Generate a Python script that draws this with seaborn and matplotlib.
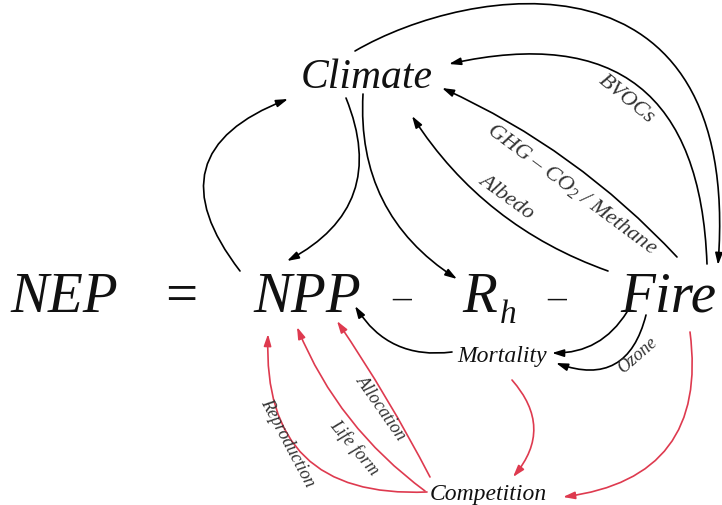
import matplotlib.pyplot as plt
import seaborn as sns
from matplotlib.patches import FancyArrowPatch
from matplotlib.path import Path

sns.set_theme(style="white")
plt.rcParams['font.family'] = ['Liberation Serif', 'DejaVu Serif']
plt.rcParams['mathtext.fontset'] = 'custom'
plt.rcParams['mathtext.rm'] = 'Liberation Serif:italic'
plt.rcParams['mathtext.it'] = 'Liberation Serif:italic'

# equation row (x = left edge, baseline y in pixels)
eq_terms = ["NEP", "=", "NPP", "–", "R", "–", "Fire"]
eq_x = [10, 165, 253, 392, 462, 547, 620]
eq_italic = [True, False, True, False, True, False, True]
sub_text, sub_x = "h", 500

# other nodes
node_labels = ["Climate", "Mortality", "Competition"]
node_x = [301, 457, 430]
node_y = [88, 362, 500]
node_size = [30, 17, 17]

# arrows: start, end, curvature
black_start = [(240, 272), (346, 99), (363, 95), (608, 272), (677, 258),
               (707, 265), (452, 353), (627, 313), (646, 316)]
black_end = [(288, 100), (287, 262), (457, 280), (412, 117), (442, 89),
             (449, 65), (355, 307), (552, 354), (556, 364)]
black_rad = [-0.67, -0.45, 0.29, -0.17, 0.1, 0.6, -0.32, -0.28, -0.55]

red_start = [(512, 381), (690, 333), (427, 493), (425, 492), (430, 478)]
red_end = [(513, 478), (563, 498), (268, 335), (297, 328), (337, 322)]
red_rad = [-0.43, -0.5, -0.54, -0.14, 0.03]

# big arc Climate -> Fire (cubic)
arc_pts = [(355, 52), (470, -15), (742, -58), (718, 266)]

# edge labels
edge_labels = ["BVOCs", "GHG – CO$_2$ / Methane", "Albedo", "Ozone",
               "Allocation", "Life form", "Reproduction"]
edge_lx = [626, 572, 506, 637, 381, 354, 287]
edge_ly = [99, 189, 197, 356, 408, 448, 443]
edge_rot = [-39, -36.5, -36, 41, -55, -50, -62]
edge_size = [16, 16, 16, 13, 13, 13, 13]

red = '#de3a4f'

fig = plt.figure(figsize=(7.22, 5.06), dpi=100)
ax = fig.add_axes([0, 0, 1, 1])
ax.set_xlim(0, 722)
ax.set_ylim(506, 0)
ax.axis('off')

for t, x, it in zip(eq_terms, eq_x, eq_italic):
    if it:
        ax.text(x, 312, t, fontsize=41, style='italic', ha='left', va='baseline', color='#111111')
    else:
        fs = 41 if t == "=" else 27
        ax.text(x, 312 if t == "=" else 308, t, fontsize=fs, ha='left', va='baseline', color='#111111')
ax.text(sub_x, 323, sub_text, fontsize=24, style='italic', ha='left', va='baseline', color='#111111')

for lab, x, y, s in zip(node_labels, node_x, node_y, node_size):
    ax.text(x, y, lab, fontsize=s, style='italic', ha='left', va='baseline', color='#111111')

astyle = "-|>,head_length=0.7,head_width=0.22"


def arrow(p0, p1, rad, col):
    a = FancyArrowPatch(p0, p1, connectionstyle=f"arc3,rad={rad}", arrowstyle=astyle,
                        mutation_scale=10, lw=1.2, color=col, shrinkA=0, shrinkB=0)
    ax.add_patch(a)


for p0, p1, r in zip(black_start, black_end, black_rad):
    arrow(p0, p1, r, 'black')
for p0, p1, r in zip(red_start, red_end, red_rad):
    arrow(p0, p1, r, red)

arc = Path(arc_pts, [Path.MOVETO, Path.CURVE4, Path.CURVE4, Path.CURVE4])
ax.add_patch(FancyArrowPatch(path=arc, arrowstyle=astyle, mutation_scale=10,
                             lw=1.2, color='black'))

for lab, x, y, r, s in zip(edge_labels, edge_lx, edge_ly, edge_rot, edge_size):
    ax.text(x, y, lab, fontsize=s, style='italic', rotation=r, rotation_mode='anchor',
            ha='center', va='center', color='#333333')

fig.savefig("out.png", dpi=100)
